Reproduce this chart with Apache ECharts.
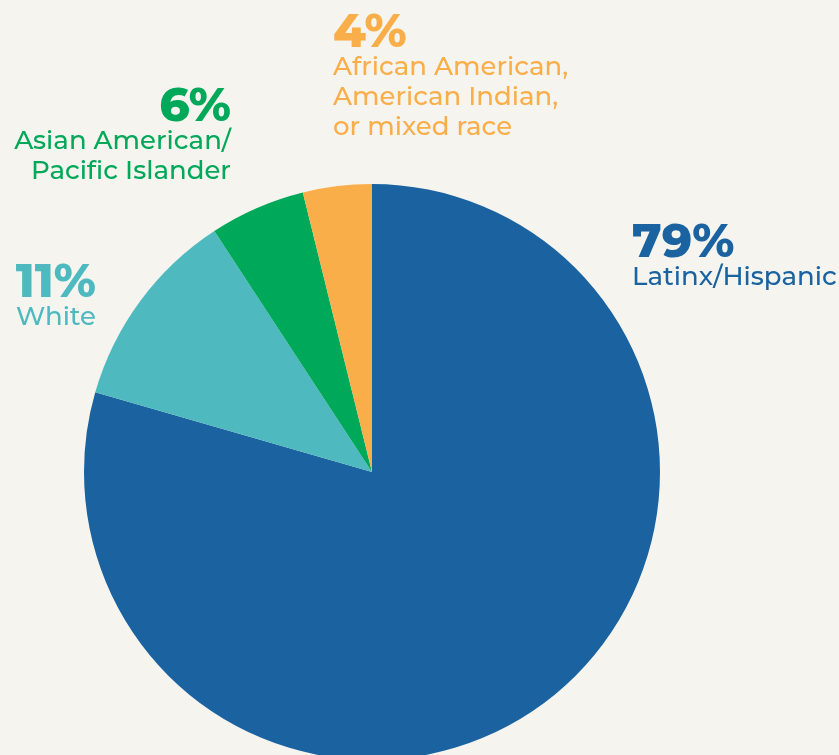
<!DOCTYPE html>
<html>
<head>
<meta charset="utf-8">
<script src="https://cdn.jsdelivr.net/npm/echarts@6/dist/echarts.min.js"></script>
<style>
  html, body { margin: 0; padding: 0; background: #f5f4ee; }
  #chart { width: 839px; height: 755px; }
</style>
</head>
<body>
<div id="chart"></div>
<script>
// data
var groups = ["Latinx/Hispanic", "White", "Asian American/\nPacific Islander", "African American,\nAmerican Indian,\nor mixed race"];
var shares = [79.46, 11.32, 5.36, 3.86];
// percentages printed on the chart
var pctLabels = ["79%", "11%", "6%", "4%"];
var colors = ["#1a62a0", "#4fb9c0", "#00a859", "#f9ae4a"];

// where each label block sits (x, top y, alignment)
var labelPos = [
  { x: 632, y: 224, align: "left" },
  { x: 96, y: 264, align: "right" },
  { x: 231, y: 88, align: "right" },
  { x: 333, y: 14, align: "left" }
];

var chart = echarts.init(document.getElementById("chart"));

var font = "Montserrat, 'Open Sans', sans-serif";

chart.setOption({
  backgroundColor: "#f5f4ee",
  animation: false,
  series: [{
    type: "pie",
    center: [372, 472],
    radius: 288,
    startAngle: 90,
    clockwise: true,
    data: groups.map(function (g, i) {
      return {
        name: g,
        value: shares[i],
        itemStyle: { color: colors[i] },
        label: {
          rich: {
            p: { fontFamily: font, fontWeight: 800, fontSize: 47, lineHeight: 38, color: colors[i] },
            n: { fontFamily: font, fontWeight: 500, fontSize: 26, lineHeight: 30, color: colors[i] }
          }
        }
      };
    }),
    label: {
      show: true,
      position: "outside",
      overflow: "none",
      formatter: function (p) {
        var lines = p.name.split("\n").map(function (l) { return "{n|" + l + "}"; });
        return "{p|" + pctLabels[p.dataIndex] + "}\n" + lines.join("\n");
      }
    },
    labelLine: { show: false },
    labelLayout: function (params) {
      var lp = labelPos[params.dataIndex];
      return { x: lp.x, y: lp.y, align: lp.align, verticalAlign: "top" };
    },
    emphasis: { disabled: true }
  }]
});
</script>
</body>
</html>
